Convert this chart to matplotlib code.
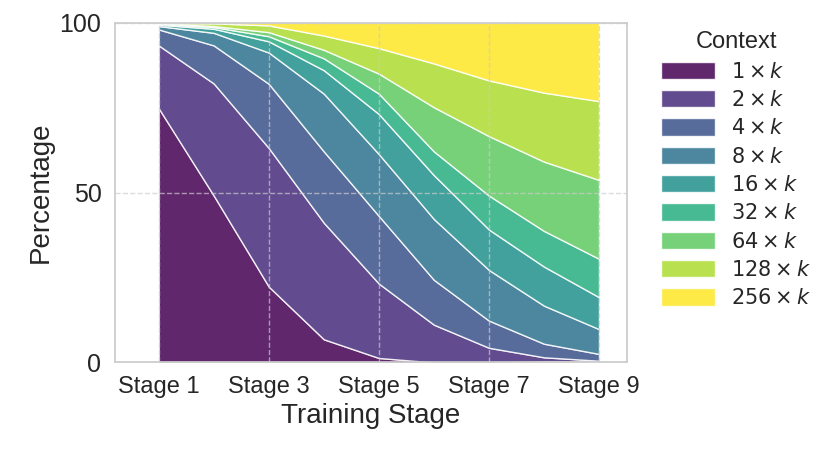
import matplotlib
matplotlib.use("Agg")
import matplotlib.pyplot as plt
import seaborn as sns
import numpy as np

sns.set_theme(style="whitegrid")
plt.rcParams['font.family'] = ['Liberation Sans', 'DejaVu Sans']

stages = np.arange(1, 10)
contexts = ["1", "2", "4", "8", "16", "32", "64", "128", "256"]
c1 = [74.8, 49.1, 22.3, 6.8, 1.3, 0.0, 0.0, 0.3, 0.3]
c2 = [18.5, 33.0, 40.8, 34.3, 21.9, 11.1, 4.3, 1.2, 0.2]
c4 = [4.7, 11.2, 18.9, 21.0, 19.9, 13.2, 8.0, 4.0, 2.0]
c8 = [1.0, 3.7, 9.2, 17.0, 18.2, 17.9, 14.9, 11.2, 7.3]
c16 = [0.4, 1.2, 3.3, 6.9, 11.8, 12.9, 11.9, 11.5, 9.4]
c32 = [0.3, 0.5, 1.5, 3.5, 6.0, 7.0, 10.0, 10.5, 11.3]
c64 = [0.1, 0.3, 1.2, 2.5, 5.9, 13.0, 17.5, 20.4, 23.2]
c128 = [0.1, 0.8, 2.0, 4.2, 7.5, 12.9, 16.4, 20.3, 23.2]
c256 = [0.1, 0.2, 0.8, 3.8, 7.5, 12.0, 17.0, 20.6, 23.1]
series = [c1, c2, c4, c8, c16, c32, c64, c128, c256]
xticks = [1, 3, 5, 7, 9]
xticklabels = ["Stage 1", "Stage 3", "Stage 5", "Stage 7", "Stage 9"]

fig, ax = plt.subplots(figsize=(8.19, 4.53), dpi=100)
colors = plt.cm.viridis(np.linspace(0, 1, len(series)))
ax.stackplot(stages, *series, colors=colors, alpha=0.85,
             labels=[rf"${c}\times k$" for c in contexts])
ax.set_xlim(0.2, 9.5)
ax.set_ylim(0, 100)
ax.set_xticks(xticks)
ax.set_xticklabels(xticklabels, fontsize=17)
ax.set_yticks([0, 50, 100])
ax.tick_params(axis='y', labelsize=18)
ax.set_xlabel("Training Stage", fontsize=20)
ax.set_ylabel("Percentage", fontsize=20)
ax.grid(True, linestyle='--', alpha=0.7)
ax.set_axisbelow(False)
for s in ax.spines.values():
    s.set_color('#cccccc')
leg = ax.legend(title="Context", loc='upper left', bbox_to_anchor=(1.03, 1.03),
                fontsize=15, title_fontsize=17, frameon=False,
                handlelength=2.6, handleheight=0.9, labelspacing=0.4)
plt.subplots_adjust(left=0.14, right=0.765, top=0.95, bottom=0.2)
fig.savefig("out.png", dpi=100)
